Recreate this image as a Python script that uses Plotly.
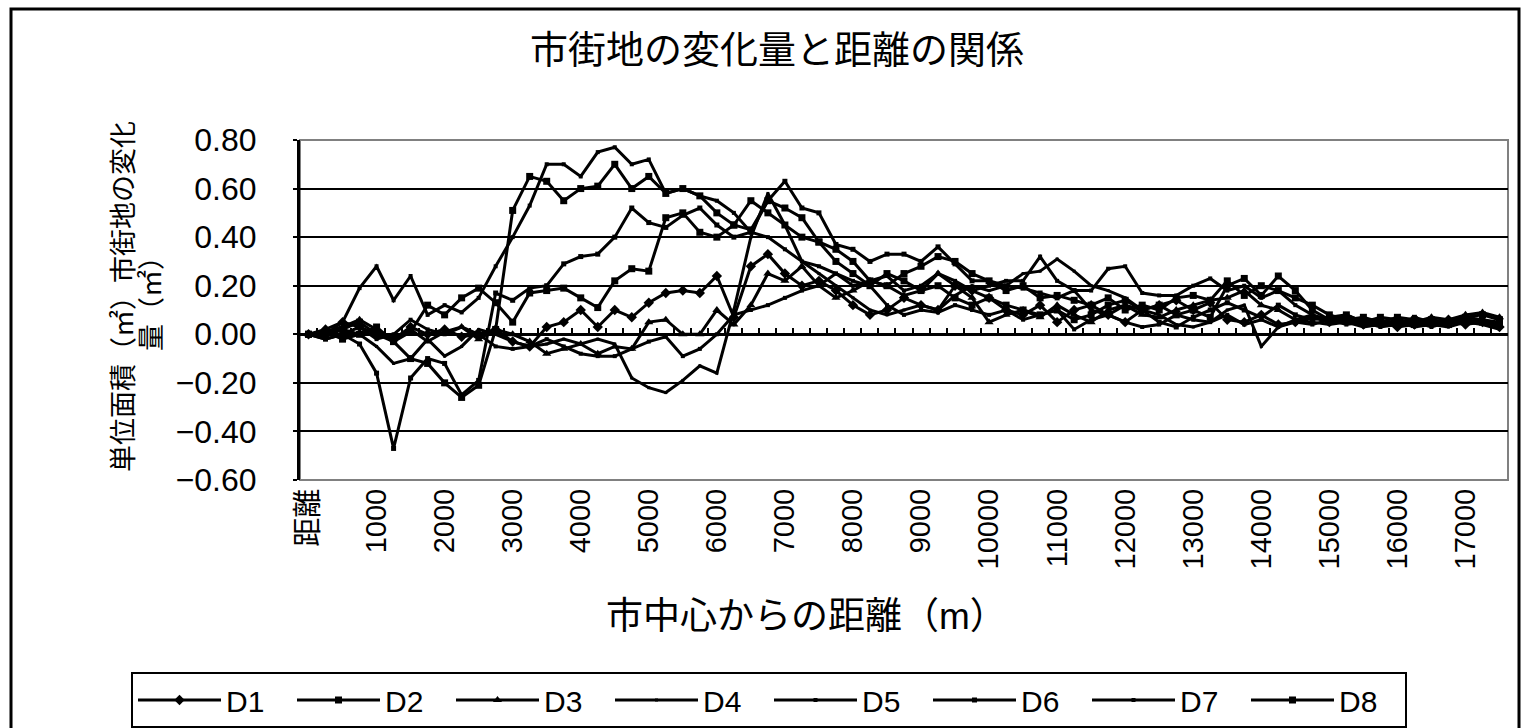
import plotly.graph_objects as go

# ---- data ----
categories = ["距離"] + [str(250 * i) for i in range(1, 71)]
tick_labels = ["距離"] + [str(1000 * k) for k in range(1, 18)]

D1 = [0.00, 0.02, 0.05, 0.03, 0.00, -0.02, 0.03, 0.00, 0.02, -0.01,
      0.00, 0.02, -0.03, -0.05, 0.03, 0.05, 0.10, 0.03, 0.10, 0.07,
      0.13, 0.17, 0.18, 0.17, 0.24, 0.07, 0.28, 0.33, 0.25, 0.20,
      0.22, 0.18, 0.12, 0.08, 0.10, 0.15, 0.12, 0.10, 0.20, 0.18,
      0.15, 0.10, 0.08, 0.12, 0.05, 0.10, 0.12, 0.08, 0.05, 0.10,
      0.12, 0.14, 0.10, 0.13, 0.06, 0.05, 0.08, 0.04, 0.05, 0.07,
      0.05, 0.06, 0.04, 0.05, 0.03, 0.04, 0.05, 0.06, 0.04, 0.05, 0.03]
D2 = [0.00, 0.00, 0.02, 0.05, 0.00, -0.03, -0.10, -0.12, -0.20, -0.26,
      -0.21, 0.02, 0.51, 0.65, 0.63, 0.55, 0.60, 0.61, 0.70, 0.60,
      0.65, 0.58, 0.60, 0.57, 0.50, 0.45, 0.43, 0.55, 0.52, 0.48,
      0.38, 0.35, 0.30, 0.22, 0.20, 0.25, 0.28, 0.32, 0.30, 0.25,
      0.22, 0.18, 0.20, 0.15, 0.16, 0.14, 0.12, 0.15, 0.10, 0.12,
      0.10, 0.15, 0.16, 0.14, 0.22, 0.16, 0.20, 0.18, 0.15, 0.12,
      0.08, 0.06, 0.07, 0.05, 0.07, 0.06, 0.05, 0.04, 0.06, 0.05, 0.04]
D3 = [0.00, 0.01, 0.03, 0.06, 0.02, -0.02, 0.02, -0.03, 0.01, 0.03,
      -0.02, 0.02, 0.00, -0.03, -0.08, -0.06, -0.04, -0.08, -0.05, -0.06,
      0.05, 0.06, 0.00, 0.00, 0.10, 0.04, 0.12, 0.25, 0.22, 0.28,
      0.20, 0.15, 0.18, 0.22, 0.20, 0.16, 0.18, 0.25, 0.20, 0.15,
      0.05, 0.08, 0.10, 0.07, 0.12, 0.08, 0.05, 0.10, 0.12, 0.08,
      0.07, 0.10, 0.12, 0.14, 0.15, 0.18, 0.12, 0.10, 0.06, 0.08,
      0.05, 0.07, 0.06, 0.04, 0.06, 0.05, 0.07, 0.06, 0.08, 0.09, 0.07]
D4 = [0.00, -0.01, 0.02, 0.00, -0.05, -0.12, -0.10, -0.02, -0.09, -0.05,
      0.02, 0.00, -0.03, -0.05, -0.04, -0.02, -0.04, -0.02, -0.04, -0.18,
      -0.22, -0.24, -0.19, -0.13, -0.16, 0.10, 0.40, 0.58, 0.45, 0.30,
      0.25, 0.20, 0.15, 0.10, 0.08, 0.10, 0.12, 0.10, 0.16, 0.20,
      0.18, 0.20, 0.25, 0.26, 0.31, 0.26, 0.20, 0.18, 0.15, 0.10,
      0.08, 0.04, 0.03, 0.05, 0.10, 0.12, -0.05, 0.03, 0.06, 0.05,
      0.04, 0.05, 0.03, 0.04, 0.05, 0.03, 0.04, 0.03, 0.05, 0.04, 0.02]
D5 = [0.00, 0.00, 0.05, 0.19, 0.28, 0.14, 0.24, 0.08, 0.12, 0.09,
      0.15, 0.28, 0.40, 0.53, 0.70, 0.70, 0.65, 0.75, 0.77, 0.70,
      0.72, 0.58, 0.60, 0.57, 0.55, 0.50, 0.42, 0.40, 0.35, 0.30,
      0.28, 0.25, 0.20, 0.22, 0.24, 0.18, 0.20, 0.25, 0.22, 0.18,
      0.20, 0.22, 0.22, 0.32, 0.22, 0.18, 0.18, 0.27, 0.28, 0.17,
      0.16, 0.16, 0.20, 0.23, 0.18, 0.20, 0.15, 0.18, 0.12, 0.08,
      0.06, 0.05, 0.06, 0.04, 0.05, 0.06, 0.04, 0.05, 0.06, 0.05, 0.04]
D6 = [0.00, -0.02, 0.00, -0.04, -0.16, -0.47, -0.18, -0.10, -0.12, -0.25,
      -0.19, 0.17, 0.14, 0.19, 0.20, 0.29, 0.32, 0.33, 0.40, 0.52,
      0.46, 0.44, 0.49, 0.52, 0.45, 0.40, 0.42, 0.55, 0.63, 0.52,
      0.50, 0.37, 0.35, 0.30, 0.33, 0.33, 0.30, 0.36, 0.29, 0.22,
      0.22, 0.20, 0.19, 0.17, 0.15, 0.18, 0.10, 0.08, 0.12, 0.10,
      0.05, 0.03, 0.07, 0.10, 0.13, 0.10, 0.07, 0.12, 0.08, 0.06,
      0.07, 0.08, 0.05, 0.06, 0.04, 0.07, 0.05, 0.06, 0.07, 0.06, 0.05]
D7 = [0.00, -0.02, 0.00, 0.03, -0.02, 0.00, 0.06, 0.02, 0.00, 0.03,
      0.00, -0.05, -0.06, -0.05, -0.02, -0.05, -0.08, -0.09, -0.09, -0.06,
      -0.03, -0.01, -0.09, -0.06, 0.00, 0.08, 0.10, 0.12, 0.15, 0.18,
      0.20, 0.25, 0.22, 0.20, 0.12, 0.08, 0.10, 0.09, 0.12, 0.10,
      0.08, 0.10, 0.06, 0.08, 0.10, 0.02, 0.06, 0.08, 0.05, 0.03,
      0.04, 0.08, 0.06, 0.05, 0.08, 0.04, 0.06, 0.03, 0.05, 0.04,
      0.06, 0.04, 0.05, 0.03, 0.04, 0.05, 0.03, 0.05, 0.04, 0.06, 0.03]
D8 = [0.00, 0.01, -0.02, 0.00, 0.03, -0.03, 0.01, 0.12, 0.08, 0.15,
      0.19, 0.13, 0.05, 0.17, 0.18, 0.19, 0.15, 0.11, 0.22, 0.27,
      0.26, 0.48, 0.50, 0.42, 0.40, 0.45, 0.55, 0.50, 0.45, 0.40,
      0.38, 0.30, 0.25, 0.20, 0.25, 0.22, 0.18, 0.20, 0.15, 0.12,
      0.15, 0.12, 0.10, 0.08, 0.10, 0.06, 0.08, 0.12, 0.14, 0.10,
      0.12, 0.08, 0.10, 0.07, 0.20, 0.23, 0.16, 0.24, 0.18, 0.10,
      0.06, 0.08, 0.05, 0.07, 0.06, 0.04, 0.06, 0.05, 0.07, 0.08, 0.06]

series_names = ["D1", "D2", "D3", "D4", "D5", "D6", "D7", "D8"]
series_values = [D1, D2, D3, D4, D5, D6, D7, D8]
symbols = ["diamond", "square", "triangle-up", "square", "square", "square", "square", "square"]
sizes = [8, 7, 8, 3, 4, 5, 4, 7]

title_text = "市街地の変化量と距離の関係"
ytitle_line1 = "単位面積（㎡）市街地の変化"
ytitle_line2 = "量（㎡）"
xtitle_text = "市中心からの距離（m）"

FONT = "Liberation Sans, Arial, Noto Sans CJK JP"

# ---- geometry (pixels) ----
W, H = 1526, 728
PL, PR, PT, PB = 300, 1508, 140, 480
pw, ph = PR - PL, PB - PT


def px(x):
    return (x - PL) / pw


def py(y):
    return (PB - y) / ph


fig = go.Figure()
for name, vals, sym, sz in zip(series_names, series_values, symbols, sizes):
    fig.add_trace(go.Scatter(
        x=categories, y=vals, name=name, mode="lines+markers",
        line=dict(color="black", width=3),
        marker=dict(symbol=sym, size=sz, color="black"),
    ))

# invisible helper trace for the tick axis drawn on the zero line
fig.add_trace(go.Scatter(x=categories, y=D1, xaxis="x2", mode="lines",
                         line=dict(width=0), opacity=0, showlegend=False,
                         hoverinfo="skip"))

zero_pos = 0.6 / 1.4

fig.update_layout(
    width=W, height=H,
    margin=dict(l=PL, r=W - PR, t=PT, b=H - PB, autoexpand=False),
    paper_bgcolor="white", plot_bgcolor="white",
    font=dict(family=FONT, color="black", size=28),
    title=dict(text=title_text, x=777 / W, xref="container", xanchor="center",
               y=1 - 50 / H, yref="container", yanchor="middle",
               font=dict(size=38, family=FONT)),
    showlegend=True,
    legend=dict(orientation="h", xref="paper", yref="paper",
                x=px(131), xanchor="left",
                y=py(672), yanchor="top",
                bordercolor="black", borderwidth=2,
                font=dict(size=30, family=FONT),
                entrywidth=61, entrywidthmode="pixels",
                itemwidth=83, tracegroupgap=0),
    xaxis=dict(type="category", categoryorder="array", categoryarray=categories,
               range=[-0.5, len(categories) - 0.5],
               tickmode="array", tickvals=tick_labels, ticktext=tick_labels,
               tickangle=-90, ticks="", showgrid=False, showline=False,
               zeroline=False, tickfont=dict(size=29, family=FONT),
               ticklabelstandoff=2),
    xaxis2=dict(type="category", categoryorder="array", categoryarray=categories,
                range=[-0.5, len(categories) - 0.5], overlaying="x",
                anchor="free", position=zero_pos, side="bottom",
                showticklabels=False, ticks="inside", ticklen=6, tickwidth=2,
                tickcolor="black", tickson="boundaries", dtick=1,
                showgrid=False, showline=False, zeroline=False),
    yaxis=dict(range=[-0.6, 0.8], dtick=0.2, tick0=0, tickformat=".2f",
               showgrid=True, gridcolor="black", gridwidth=2,
               zeroline=True, zerolinecolor="black", zerolinewidth=3,
               showline=True, linecolor="black", linewidth=3,
               ticks="outside", ticklen=4, tickwidth=2, tickcolor="black",
               tickfont=dict(size=32, family=FONT), ticklabelstandoff=30),
    shapes=[
        dict(type="rect", xref="paper", yref="paper", x0=0, x1=1, y0=0, y1=1,
             line=dict(color="#808080", width=2), layer="below"),
        dict(type="rect", xref="paper", yref="paper",
             x0=px(11), x1=px(1519), y0=py(731), y1=py(9),
             line=dict(color="black", width=3), layer="below"),
    ],
    annotations=[
        dict(text=ytitle_line1, xref="paper", yref="paper", x=px(124), y=py(297),
             xanchor="center", yanchor="middle", textangle=-90, showarrow=False,
             font=dict(size=27, family=FONT)),
        dict(text=ytitle_line2, xref="paper", yref="paper", x=px(152), y=py(297),
             xanchor="center", yanchor="middle", textangle=-90, showarrow=False,
             font=dict(size=27, family=FONT)),
        dict(text=xtitle_text, xref="paper", yref="paper", x=px(806), y=py(616),
             xanchor="center", yanchor="middle", showarrow=False,
             font=dict(size=37, family=FONT)),
    ],
)

fig.write_html("out.html", config={"displayModeBar": False},
               post_script="document.body.style.margin='0px';")
